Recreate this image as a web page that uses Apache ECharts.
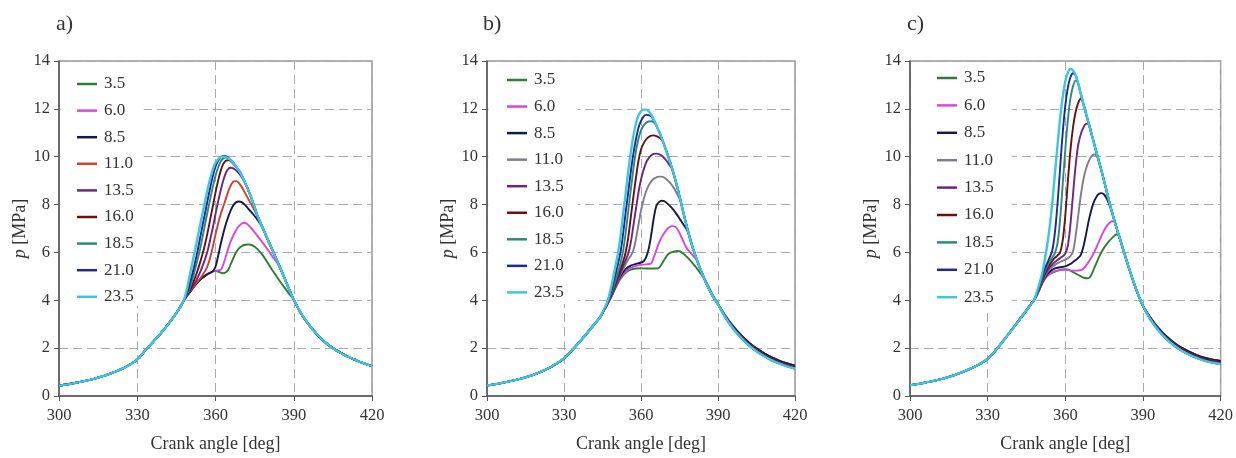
<!DOCTYPE html>
<html><head><meta charset="utf-8">
<script src="https://cdn.jsdelivr.net/npm/echarts@6/dist/echarts.min.js"></script>
<style>html,body{margin:0;padding:0;background:#fff}#c{width:1236px;height:458px}</style>
</head><body><div id="c"></div>
<script>
// ---------- data (crank angle [deg], pressure [MPa]) ----------
const legendLabels = ['3.5','6.0','8.5','11.0','13.5','16.0','18.5','21.0','23.5'];
const panelLabels = ['a)','b)','c)'];
const xTicks = [300,330,360,390,420];

// Panel a
const compA = [[300,0.43],[305,0.52],[310,0.63],[315,0.77],[320,0.95],[325,1.18],[330,1.52],[333,1.9],[336,2.25],[339,2.62],[342,3.02],[345,3.47],[347,3.82]];
const envA = [[363,10.03],[364,10.02],[365,9.95],[366,9.85],[367,9.72],[368,9.57],[369,9.42],[370,9.22],[371,9.0],[372,8.75],[373,8.48],[374,8.2],[375,7.9],[376,7.55],[378,7.05],[380,6.55],[382,6.05],[384,5.55],[386,5.05],[388,4.52],[390,4.02]];
const tailA = [[393,3.42],[396,2.95],[399,2.57],[402,2.25],[405,2.0],[408,1.8],[411,1.63],[414,1.49],[417,1.36],[420,1.25]];
const a35 = [[348,4.02],[350,4.32],[352,4.6],[354,4.85],[356,5.03],[358,5.16],[360,5.22],[361,5.2],[362,5.16],[363,5.13],[364,5.17],[365,5.3],[366,5.55],[367,5.8],[368,6.02],[369,6.17],[370,6.26],[371,6.31],[372,6.33],[373,6.33],[374,6.3],[375,6.24],[376,6.15],[378,5.9],[380,5.57],[382,5.22],[384,4.9],[386,4.6],[388,4.3]];
const a60 = [[348,4.02],[350,4.32],[352,4.6],[354,4.85],[356,5.03],[358,5.16],[360,5.24],[361,5.25],[362,5.27],[363,5.5],[364,5.85],[365,6.2],[366,6.5],[367,6.75],[368,6.95],[369,7.1],[370,7.2],[371,7.24],[372,7.2],[373,7.1],[374,6.97],[376,6.7],[378,6.42],[380,6.12],[382,5.8],[384,5.5]];
const a85 = [[348,4.02],[350,4.32],[352,4.6],[354,4.85],[356,5.02],[357,5.1],[358,5.15],[359,5.22],[360,5.4],[361,5.85],[362,6.35],[363,6.8],[364,7.2],[365,7.52],[366,7.8],[367,8.0],[368,8.1],[369,8.13],[370,8.1],[371,8.02],[372,7.9],[374,7.65],[376,7.38],[378,7.05]];
const a110 = [[348,4.02],[350,4.33],[352,4.62],[354,4.9],[355,5.05],[356,5.22],[357,5.45],[358,5.8],[359,6.25],[360,6.75],[361,7.2],[362,7.6],[363,7.92],[364,8.25],[365,8.58],[366,8.83],[367,8.97],[368,8.98],[369,8.9],[370,8.75],[371,8.55],[372,8.35],[373,8.15],[374,7.95],[375,7.75]];
const a135 = [[348,4.02],[350,4.35],[352,4.7],[353,4.92],[354,5.15],[355,5.42],[356,5.72],[357,6.08],[358,6.55],[359,7.05],[360,7.6],[361,8.12],[362,8.6],[363,9.02],[364,9.33],[365,9.5],[366,9.54],[367,9.5],[368,9.42],[369,9.3],[370,9.15],[371,8.97]];
const a160 = [[348,4.02],[349,4.2],[350,4.4],[351,4.62],[352,4.9],[353,5.2],[354,5.55],[355,5.92],[356,6.35],[357,6.85],[358,7.4],[359,7.95],[360,8.5],[361,9.0],[362,9.42],[363,9.7],[364,9.83],[365,9.86],[366,9.8],[367,9.68]];
const a185 = [[348,4.02],[349,4.22],[350,4.48],[351,4.82],[352,5.22],[353,5.65],[354,6.1],[355,6.62],[356,7.18],[357,7.72],[358,8.25],[359,8.75],[360,9.2],[361,9.55],[362,9.8],[363,9.93],[364,9.96],[365,9.92],[366,9.83]];
const a210 = [[348,4.02],[349,4.27],[350,4.65],[351,5.05],[352,5.5],[353,6.0],[354,6.55],[355,7.1],[356,7.65],[357,8.2],[358,8.72],[359,9.2],[360,9.58],[361,9.83],[362,9.97],[363,10.03]];
const a235 = [[348,4.05],[349,4.45],[350,4.98],[351,5.5],[352,6.02],[353,6.55],[354,7.08],[355,7.62],[356,8.15],[357,8.65],[358,9.1],[359,9.48],[360,9.75],[361,9.9],[362,9.98],[363,10.0],[364,9.98],[365,9.92]];

// Panel b
const compB = [[300,0.44],[305,0.53],[310,0.64],[315,0.78],[320,0.97],[325,1.22],[330,1.57],[333,1.9],[336,2.25],[339,2.63],[342,3.02],[344,3.28]];
const envB = [[361,11.95],[362,11.97],[363,11.9],[364,11.75],[365,11.55],[366,11.3],[367,11.05],[368,10.8],[369,10.5],[370,10.2],[371,9.88],[372,9.55],[373,9.18],[374,8.78],[375,8.35],[376,7.9],[377,7.45],[378,7.02],[379,6.62],[380,6.25],[382,5.62],[384,5.07],[386,4.58],[388,4.17],[390,3.83]];
const tailBHigh = [[393,3.33],[396,2.9],[399,2.54],[402,2.24],[405,1.99],[408,1.78],[411,1.61],[414,1.47],[417,1.36],[420,1.27]];
const tailBMid = [[393,3.29],[396,2.85],[399,2.48],[402,2.18],[405,1.93],[408,1.72],[411,1.55],[414,1.41],[417,1.3],[420,1.21]];
const tailBLow = [[393,3.26],[396,2.8],[399,2.43],[402,2.12],[405,1.87],[408,1.66],[411,1.49],[414,1.35],[417,1.24],[420,1.15]];
const b35 = [[345,3.47],[346,3.66],[348,4.05],[350,4.5],[352,4.9],[354,5.15],[356,5.28],[358,5.33],[360,5.34],[362,5.33],[364,5.33],[366,5.33],[367,5.36],[368,5.5],[369,5.68],[370,5.85],[371,5.96],[372,6.01],[373,6.04],[374,6.06],[375,6.05],[376,5.99],[377,5.9],[378,5.8],[380,5.56],[382,5.3],[384,5.0],[386,4.64],[388,4.22],[390,3.86]];
const b60 = [[345,3.47],[346,3.66],[348,4.06],[350,4.52],[352,4.95],[354,5.2],[356,5.36],[358,5.44],[360,5.48],[362,5.5],[364,5.55],[365,5.8],[366,6.1],[367,6.4],[368,6.62],[369,6.8],[370,6.95],[371,7.05],[372,7.1],[373,7.09],[374,7.0],[375,6.82],[376,6.58],[377,6.35],[378,6.15],[380,5.9],[382,5.62]];
const b85 = [[345,3.47],[346,3.66],[348,4.07],[350,4.55],[352,5.0],[354,5.3],[356,5.45],[358,5.52],[360,5.58],[361,5.63],[362,5.8],[363,6.15],[364,6.75],[365,7.45],[366,7.95],[367,8.1],[368,8.16],[369,8.14],[370,8.07],[372,7.86],[374,7.58],[376,7.25],[378,6.92]];
const b110 = [[345,3.47],[346,3.66],[348,4.08],[350,4.58],[352,5.08],[354,5.5],[355,5.7],[356,5.86],[357,6.08],[358,6.55],[359,7.15],[360,7.75],[361,8.2],[362,8.55],[363,8.8],[364,8.97],[365,9.08],[366,9.14],[367,9.17],[368,9.17],[369,9.13],[370,9.05],[371,8.95],[372,8.82],[373,8.65],[374,8.45],[375,8.25]];
const b135 = [[345,3.47],[346,3.67],[348,4.1],[350,4.62],[352,5.15],[353,5.42],[354,5.68],[355,5.95],[356,6.4],[357,7.1],[358,7.8],[359,8.5],[360,9.05],[361,9.45],[362,9.75],[363,9.94],[364,10.06],[365,10.12],[366,10.13],[367,10.11],[368,10.05],[369,9.95],[370,9.82],[371,9.67],[372,9.5]];
const b160 = [[345,3.48],[346,3.68],[347,3.9],[348,4.12],[349,4.38],[350,4.68],[351,5.0],[352,5.3],[353,5.6],[354,6.0],[355,6.6],[356,7.45],[357,8.3],[358,9.1],[359,9.82],[360,10.3],[361,10.56],[362,10.72],[363,10.82],[364,10.88],[365,10.89],[366,10.86],[367,10.8],[368,10.72]];
const b185 = [[345,3.48],[346,3.68],[347,3.91],[348,4.16],[349,4.46],[350,4.8],[351,5.15],[352,5.55],[353,6.05],[354,6.8],[355,7.7],[356,8.6],[357,9.45],[358,10.2],[359,10.75],[360,11.1],[361,11.3],[362,11.42],[363,11.47],[364,11.48],[365,11.43],[366,11.3]];
const b210 = [[345,3.48],[346,3.69],[347,3.93],[348,4.24],[349,4.62],[350,5.05],[351,5.5],[352,6.0],[353,6.75],[354,7.65],[355,8.5],[356,9.35],[357,10.1],[358,10.72],[359,11.2],[360,11.5],[361,11.68],[362,11.75],[363,11.74],[364,11.68],[365,11.52]];
const b235 = [[345,3.5],[346,3.72],[347,3.98],[348,4.38],[349,4.85],[350,5.4],[351,5.95],[352,6.65],[353,7.55],[354,8.45],[355,9.35],[356,10.15],[357,10.85],[358,11.38],[359,11.72],[360,11.9],[361,11.97],[362,11.97],[363,11.9]];

// Panel c
const compC = [[300,0.45],[305,0.54],[310,0.65],[315,0.8],[320,0.99],[325,1.23],[330,1.55],[333,1.9],[336,2.3],[339,2.72],[342,3.15],[345,3.58],[347,3.88],[348,4.02]];
const envC = [[362,13.67],[363,13.6],[364,13.4],[365,13.05],[366,12.62],[367,12.2],[368,11.8],[369,11.4],[370,11.0],[371,10.6],[372,10.2],[373,9.8],[374,9.4],[375,8.98],[376,8.55],[377,8.12],[378,7.7],[379,7.32],[380,6.95],[381,6.6],[382,6.25],[384,5.55],[386,4.88],[388,4.28],[390,3.76]];
const tailCHigh = [[393,3.26],[396,2.84],[399,2.5],[402,2.23],[405,2.01],[408,1.84],[411,1.7],[414,1.59],[417,1.52],[420,1.47]];
const tailCMid = [[393,3.22],[396,2.79],[399,2.45],[402,2.17],[405,1.95],[408,1.78],[411,1.64],[414,1.53],[417,1.46],[420,1.41]];
const tailCLow = [[393,3.18],[396,2.74],[399,2.39],[402,2.11],[405,1.89],[408,1.72],[411,1.58],[414,1.47],[417,1.39],[420,1.34]];
const c35 = [[349,4.22],[350,4.45],[352,4.88],[354,5.1],[356,5.2],[358,5.27],[360,5.3],[362,5.24],[364,5.12],[366,5.0],[367,4.95],[368,4.92],[369,4.93],[370,5.05],[371,5.3],[372,5.55],[373,5.8],[374,6.02],[375,6.2],[376,6.35],[377,6.48],[378,6.6],[379,6.7],[380,6.76],[381,6.6]];
const c60 = [[349,4.22],[350,4.45],[352,4.9],[354,5.12],[356,5.22],[358,5.26],[360,5.27],[362,5.25],[364,5.24],[366,5.26],[367,5.32],[368,5.45],[369,5.6],[370,5.78],[371,5.97],[372,6.2],[373,6.45],[374,6.7],[375,6.92],[376,7.1],[377,7.22],[378,7.3],[379,7.28],[380,6.95]];
const c85 = [[349,4.22],[350,4.46],[352,4.93],[354,5.2],[356,5.33],[358,5.38],[360,5.42],[362,5.52],[363,5.6],[364,5.68],[365,5.77],[366,5.9],[367,6.25],[368,6.75],[369,7.3],[370,7.75],[371,8.1],[372,8.32],[373,8.45],[374,8.48],[375,8.42],[376,8.25],[377,8.0],[378,7.7]];
const c110 = [[349,4.23],[350,4.48],[352,4.98],[354,5.3],[356,5.48],[358,5.6],[360,5.7],[361,5.76],[362,5.85],[363,6.05],[364,6.7],[365,7.55],[366,8.4],[367,9.05],[368,9.5],[369,9.8],[370,10.0],[371,10.09],[372,10.05],[373,9.8],[374,9.4]];
const c135 = [[349,4.24],[350,4.5],[351,4.78],[352,5.03],[353,5.23],[354,5.38],[355,5.5],[356,5.6],[357,5.68],[358,5.76],[359,5.84],[360,5.95],[361,6.3],[362,7.2],[363,8.45],[364,9.65],[365,10.5],[366,10.95],[367,11.22],[368,11.37],[369,11.38]];
const c160 = [[349,4.25],[350,4.52],[351,4.82],[352,5.1],[353,5.33],[354,5.5],[355,5.65],[356,5.78],[357,5.88],[358,6.0],[359,6.5],[360,7.55],[361,9.0],[362,10.3],[363,11.25],[364,11.88],[365,12.25],[366,12.42],[367,12.2]];
const c185 = [[349,4.27],[350,4.55],[351,4.88],[352,5.18],[353,5.43],[354,5.63],[355,5.8],[356,5.98],[357,6.4],[358,7.4],[359,8.85],[360,10.3],[361,11.55],[362,12.45],[363,12.95],[364,13.18],[365,13.05]];
const c210 = [[349,4.28],[350,4.6],[351,4.95],[352,5.28],[353,5.55],[354,5.8],[355,6.1],[356,6.85],[357,8.05],[358,9.55],[359,11.0],[360,12.15],[361,12.9],[362,13.33],[363,13.49],[364,13.4]];
const c235 = [[349,4.35],[350,4.7],[351,5.1],[352,5.65],[353,6.3],[354,7.1],[355,8.1],[356,9.3],[357,10.5],[358,11.6],[359,12.5],[360,13.15],[361,13.52],[362,13.67]];

// ---------- assembly ----------
const coloursA = ['#2f7d32','#dc44dc','#121a4c','#d0412e','#6c2680','#6a1010','#2b8a7f','#1f2a90','#3cc6e0'];
const coloursBC = ['#2f7d32','#dc44dc','#121a4c','#7d7d90','#6c2680','#6a1010','#2b8a7f','#1f2a90','#3cc6e0'];
const panels = [
  {comp: compA, env: envA, segs: [a35,a60,a85,a110,a135,a160,a185,a210,a235], tails: [tailA,tailA,tailA,tailA,tailA,tailA,tailA,tailA,tailA], colours: coloursA},
  {comp: compB, env: envB, segs: [b35,b60,b85,b110,b135,b160,b185,b210,b235], tails: [tailBHigh,tailBHigh,tailBHigh,tailBMid,tailBMid,tailBMid,tailBLow,tailBLow,tailBLow], colours: coloursBC},
  {comp: compC, env: envC, segs: [c35,c60,c85,c110,c135,c160,c185,c210,c235], tails: [tailCHigh,tailCHigh,tailCHigh,tailCMid,tailCMid,tailCMid,tailCLow,tailCLow,tailCLow], colours: coloursBC}
];
function assemble(comp, seg, env, tail) {
  const last = seg[seg.length - 1][0];
  const mid = env.filter(p => p[0] > last);
  const lastMid = mid.length ? mid[mid.length - 1][0] : last;
  return comp.concat(seg, mid, tail.filter(p => p[0] > lastMid));
}

const FONT = 'Liberation Serif';
const gridPos = [
  {left: 59, top: 61, width: 313, height: 340},
  {left: 487, top: 61, width: 308, height: 339},
  {left: 910, top: 61, width: 311, height: 340}
];
const legendPos = [
  {left: 60.5, top: 62, padding: [13.5, 10, 1, 16.5], itemGap: 9.6},
  {left: 488.5, top: 62, padding: [9.5, 14, 3, 18.5], itemGap: 9.55},
  {left: 911.5, top: 62, padding: [7.5, 18, 7, 25.5], itemGap: 10.4}
];
const titlePos = [{left: 56, top: 13}, {left: 483, top: 13}, {left: 907, top: 13}];

const option = {
  animation: false,
  backgroundColor: '#fff',
  title: panelLabels.map((t, i) => ({text: t, left: titlePos[i].left, top: titlePos[i].top, padding: 0,
    textStyle: {fontFamily: FONT, fontSize: 22, fontWeight: 'normal', color: '#333'}})),
  grid: gridPos.map(g => Object.assign({show: true, borderColor: '#999', borderWidth: 1.5, backgroundColor: 'transparent', containLabel: false}, g)),
  xAxis: gridPos.map((g, i) => ({
    type: 'value', gridIndex: i, min: xTicks[0], max: xTicks[xTicks.length - 1], interval: 30,
    name: 'Crank angle [deg]', nameLocation: 'middle', nameGap: 39,
    nameTextStyle: {fontFamily: FONT, fontSize: 18, color: '#333'},
    axisLine: {lineStyle: {color: '#555', width: 1.5}},
    axisTick: {show: true, length: 5, lineStyle: {color: '#555'}},
    axisLabel: {fontFamily: FONT, fontSize: 16.5, color: '#333', margin: 11},
    splitLine: {show: true, lineStyle: {color: '#aaa', width: 1, type: [9, 5]}}
  })),
  yAxis: gridPos.map((g, i) => ({
    type: 'value', gridIndex: i, min: 0, max: 14, interval: 2,
    name: '{i|p} [MPa]', nameLocation: 'middle', nameGap: 27, nameRotate: 90,
    nameTextStyle: {fontFamily: FONT, fontSize: 18, color: '#333', rich: {i: {fontFamily: FONT, fontSize: 18, fontStyle: 'italic', color: '#333'}}},
    axisLine: {show: true, lineStyle: {color: '#555', width: 1.5}},
    axisTick: {show: true, length: 5, lineStyle: {color: '#555'}},
    axisLabel: {fontFamily: FONT, fontSize: 16.5, color: '#333', margin: 9},
    splitLine: {show: true, lineStyle: {color: '#aaa', width: 1, type: [9, 5]}}
  })),
  legend: legendPos.map((l, i) => ({
    left: l.left, top: l.top, padding: l.padding, itemGap: l.itemGap, orient: 'vertical',
    backgroundColor: '#fff', icon: 'rect', itemWidth: 20, itemHeight: 2.5,
    selectedMode: false,
    data: legendLabels.map(n => 'p' + i + '|' + n),
    formatter: name => name.split('|')[1],
    textStyle: {fontFamily: FONT, fontSize: 17, color: '#333', lineHeight: 16, padding: [0, 0, 0, 2]}
  })),
  series: []
};
panels.forEach((p, i) => {
  p.segs.forEach((seg, k) => {
    option.series.push({
      type: 'line', name: 'p' + i + '|' + legendLabels[k], xAxisIndex: i, yAxisIndex: i,
      data: assemble(p.comp, seg, p.env, p.tails[k]),
      showSymbol: false, smooth: 0.35,
      lineStyle: {color: p.colours[k], width: k === 8 ? 2.4 : 1.9},
      itemStyle: {color: p.colours[k]},
      z: 2 + k
    });
  });
});
const chart = echarts.init(document.getElementById('c'), null, {renderer: 'canvas'});
chart.setOption(option);
</script></body></html>
